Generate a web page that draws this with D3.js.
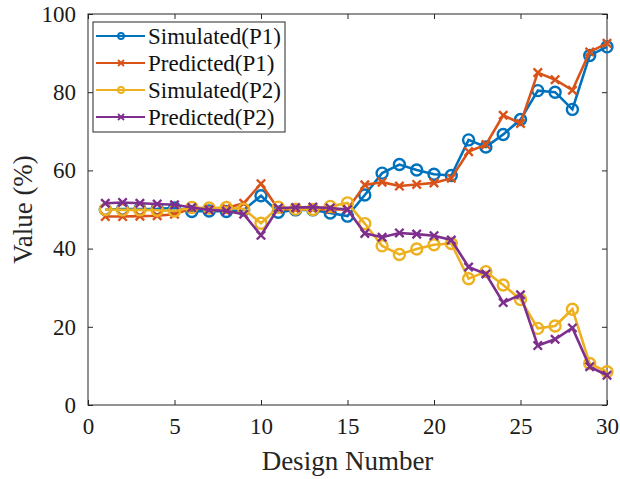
<!DOCTYPE html>
<html>
<head>
<meta charset="utf-8">
<script src="https://cdn.jsdelivr.net/npm/d3@7"></script>
<style>
  body { margin: 0; background: #fff; }
</style>
</head>
<body>
<script>
// design numbers (categories)
const designNo = [1,2,3,4,5,6,7,8,9,10,11,12,13,14,15,16,17,18,19,20,21,22,23,24,25,26,27,28,29,30]

const simP1  = [50.0,50.1,50.1,50.2,50.4,49.5,49.6,49.5,49.9,53.5,49.3,49.9,49.9,49.1,48.3,53.7,59.3,61.5,60.1,59.0,58.7,67.8,66.0,69.2,73.0,80.4,80.0,75.6,89.4,91.6]
const predP1 = [48.2,48.2,48.3,48.4,48.8,50.3,50.2,50.4,51.6,56.6,50.1,50.0,50.1,50.0,50.0,56.3,57.0,56.0,56.4,56.8,58.0,64.8,66.6,74.1,72.0,85.0,83.2,80.5,90.3,92.5]
const simP2  = [50.0,49.9,49.9,49.8,49.6,50.5,50.4,50.5,50.1,46.5,50.6,50.1,50.0,50.8,51.7,46.4,40.7,38.5,39.9,41.0,41.3,32.3,34.1,30.7,27.0,19.6,20.2,24.5,10.6,8.5]
const predP2 = [51.6,51.8,51.6,51.4,51.2,50.5,49.9,49.6,48.8,43.4,50.4,50.5,50.6,50.4,50.0,43.9,42.9,44.0,43.7,43.3,42.2,35.3,33.5,26.2,28.2,15.2,16.8,19.7,9.8,7.6]

const xTicks = [0,5,10,15,20,25,30]
const yTicks = [0,20,40,60,80,100]

const series = [
  {name: "Simulated(P1)", values: simP1, color: "#0072BD", marker: "o"},
  {name: "Predicted(P1)", values: predP1, color: "#D95319", marker: "x"},
  {name: "Simulated(P2)", values: simP2, color: "#EDB120", marker: "o"},
  {name: "Predicted(P2)", values: predP2, color: "#7E2F8E", marker: "x"}
]

const W = 620, H = 479
const margin = {top: 14, right: 13, bottom: 74, left: 88}
const width = W - margin.left - margin.right
const height = H - margin.top - margin.bottom
const axisColor = "#262626"
const serif = "'Liberation Serif', 'Times New Roman', serif"

const svg = d3.select("body").append("svg")
  .attr("width", W).attr("height", H)
  .style("font-family", serif)
const chart = svg.append("g").attr("transform", `translate(${margin.left},${margin.top})`)

const x = d3.scaleLinear().domain([0, 30]).range([0, width])
const y = d3.scaleLinear().domain([0, 100]).range([height, 0])

// axes, ticks inward on all four sides
function styleAxis(g) {
  g.attr("font-family", null).attr("font-size", null)
  g.select(".domain").remove()
  g.selectAll(".tick line").attr("stroke", axisColor)
  g.selectAll(".tick text")
    .attr("fill", "#1a1a1a")
    .style("font-family", serif)
    .style("font-size", "23px")
}
chart.append("g").attr("transform", `translate(0,${height})`)
  .call(d3.axisBottom(x).tickValues(xTicks).tickSizeInner(-5).tickPadding(13))
  .call(styleAxis)
chart.append("g")
  .call(d3.axisLeft(y).tickValues(yTicks).tickSizeInner(-5).tickPadding(12))
  .call(styleAxis)
chart.append("g")
  .call(d3.axisTop(x).tickValues(xTicks).tickSizeInner(-5).tickFormat(""))
  .call(styleAxis)
chart.append("g").attr("transform", `translate(${width},0)`)
  .call(d3.axisRight(y).tickValues(yTicks).tickSizeInner(-5).tickFormat(""))
  .call(styleAxis)

chart.append("rect")
  .attr("width", width).attr("height", height)
  .attr("fill", "none").attr("stroke", axisColor).attr("stroke-width", 1)

const line = d3.line()
  .x((d, i) => x(designNo[i]))
  .y(d => y(d))

function drawMarker(g, type, color, size, sw) {
  if (type === "o") {
    g.append("circle").attr("r", size).attr("fill", "none")
      .attr("stroke", color).attr("stroke-width", sw)
  } else {
    const s = size
    g.append("path").attr("d", `M${-s},${-s}L${s},${s}M${-s},${s}L${s},${-s}`)
      .attr("stroke", color).attr("stroke-width", sw).attr("fill", "none")
  }
}

series.forEach(function(s) {
  const g = chart.append("g").attr("class", "series")
  g.append("path")
    .attr("d", line(s.values))
    .attr("fill", "none")
    .attr("stroke", s.color)
    .attr("stroke-width", 2.6)
  g.selectAll("g.mk")
    .data(s.values)
    .enter().append("g")
      .attr("class", "mk")
      .attr("transform", (d, i) => `translate(${x(designNo[i])},${y(d)})`)
      .each(function() {
        drawMarker(d3.select(this), s.marker, s.color, s.marker === "o" ? 5.5 : 4.2, 2.4)
      })
})

// legend
const legend = svg.append("g").attr("transform", "translate(93,22)")
legend.append("rect")
  .attr("width", 192).attr("height", 110)
  .attr("fill", "#fff").attr("stroke", axisColor).attr("stroke-width", 1)
series.forEach(function(s, i) {
  const row = legend.append("g").attr("transform", `translate(0,${14 + i * 27})`)
  row.append("line").attr("x1", 3).attr("x2", 52).attr("y1", 0).attr("y2", 0)
    .attr("stroke", s.color).attr("stroke-width", 2)
  const m = row.append("g").attr("transform", "translate(28,0)")
  drawMarker(m, s.marker, s.color, 3, 1.8)
  row.append("text").attr("x", 55).attr("y", 8)
    .style("font-size", "23px").attr("fill", "#111")
    .text(s.name)
})

// axis titles
svg.append("text")
  .attr("x", margin.left + width / 2).attr("y", 470)
  .attr("text-anchor", "middle").style("font-size", "27px").attr("fill", axisColor)
  .text("Design Number")
svg.append("text")
  .attr("transform", `translate(32,${margin.top + height / 2}) rotate(-90)`)
  .attr("text-anchor", "middle").style("font-size", "27px").attr("fill", axisColor)
  .text("Value (%)")
</script>
</body>
</html>
